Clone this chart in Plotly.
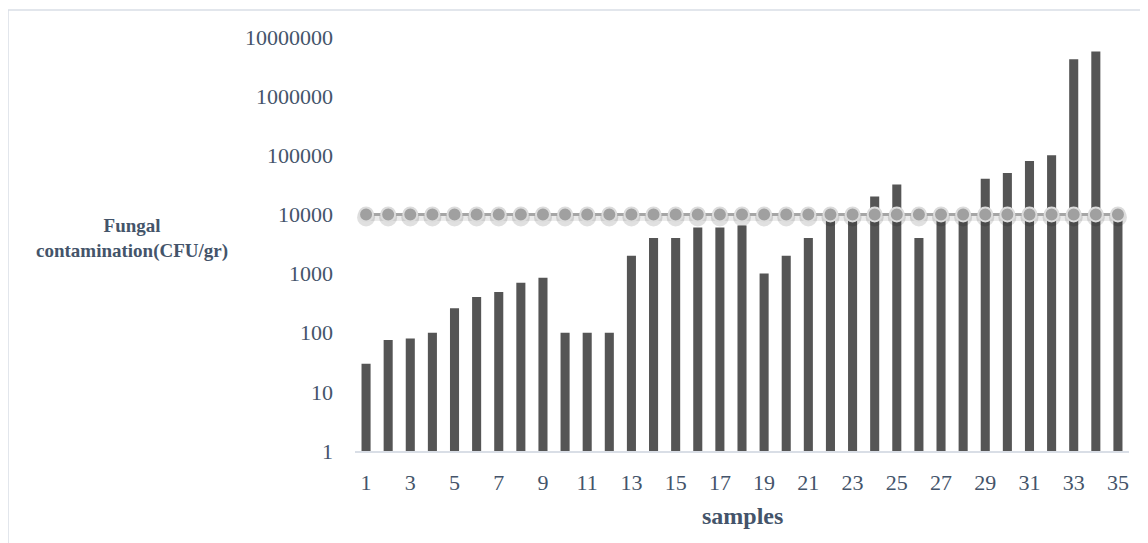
import plotly.graph_objects as go

samples = list(range(1, 36))
fungal = [30, 75, 80, 100, 260, 400, 490, 700, 850, 100, 100, 100, 2000, 4000, 4000,
          6000, 6000, 6500, 1000, 2000, 4000, 8000, 8000, 20000, 32000, 4000, 8500, 8500,
          40000, 50000, 80000, 100000, 4200000, 5700000, 9000]
limit = [10000] * 35
xtick_vals = list(range(1, 36, 2))
ytick_vals = [1, 10, 100, 1000, 10000, 100000, 1000000, 10000000]
ytick_text = [str(v) for v in ytick_vals]

W, H = 1148, 543
OFF = 8  # page body margin offset
# target screen positions of the plot area
SX0, SX1, SY0, SY1 = 355, 1129, 37, 451
L = SX0 - OFF
T = SY0 - OFF
R = W - (SX1 - OFF)
B = H - (SY1 - OFF)
FONT = "Liberation Serif"
TXT = "#44546A"

pw = SX1 - SX0
ph = SY1 - SY0
decade_px = ph / 7.0
shadow = [v * 10 ** (-3.0 / decade_px) for v in limit]

fig = go.Figure()
fig.add_trace(go.Bar(x=samples, y=fungal, marker=dict(color="#555555", line=dict(width=0)),
                     showlegend=False))
# soft shadow under the limit line
fig.add_trace(go.Scatter(x=samples, y=shadow, mode="lines+markers",
                         line=dict(color="rgba(0,0,0,0.08)", width=7),
                         marker=dict(size=18, color="rgba(0,0,0,0.12)", line=dict(width=0)),
                         showlegend=False, hoverinfo="skip"))
fig.add_trace(go.Scatter(x=samples, y=limit, mode="lines+markers",
                         line=dict(color="#A6A6A6", width=3),
                         marker=dict(size=14, color="#A0A0A0", line=dict(color="#DCDCDC", width=2)),
                         showlegend=False))


def px_x(x):
    return (x - SX0) / pw


def px_y(y):
    return (SY1 - y) / ph


fig.add_shape(type="rect", xref="paper", yref="paper",
              x0=px_x(8), x1=px_x(W + 20), y0=px_y(H + 20), y1=px_y(10),
              line=dict(color="#D9DEE6", width=1.5), fillcolor="rgba(0,0,0,0)", layer="below")

fig.add_annotation(text="<b>Fungal<br>contamination(CFU/gr)</b>", xref="paper", yref="paper",
                   x=px_x(132), y=px_y(238), xanchor="center", yanchor="middle",
                   showarrow=False, font=dict(family=FONT, size=19, color=TXT), align="center")
fig.add_annotation(text="<b>samples</b>", xref="paper", yref="paper",
                   x=px_x(742), y=px_y(516), xanchor="center", yanchor="middle",
                   showarrow=False, font=dict(family=FONT, size=24, color=TXT))

fig.update_layout(
    width=W, height=H,
    margin=dict(l=L, r=R, t=T, b=B, autoexpand=False),
    plot_bgcolor="white", paper_bgcolor="white",
    bargap=0.59,
    font=dict(family=FONT, color=TXT),
    xaxis=dict(range=[0.5, 35.5], tickmode="array", tickvals=xtick_vals,
               ticktext=[str(v) for v in xtick_vals], ticks="", showgrid=False,
               showline=True, linecolor="#D9DEE6", linewidth=1.5, zeroline=False,
               tickfont=dict(family=FONT, size=22, color=TXT), ticklabelstandoff=11,
               automargin=False),
    yaxis=dict(type="log", range=[0, 7], tickmode="array", tickvals=ytick_vals,
               ticktext=ytick_text, showgrid=False, showline=False, zeroline=False, ticks="",
               tickfont=dict(family=FONT, size=22, color=TXT), ticklabelstandoff=21,
               automargin=False),
)

fig.write_html("out.html")
